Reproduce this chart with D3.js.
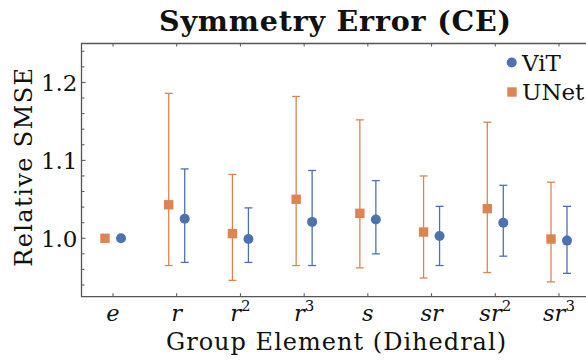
<!DOCTYPE html>
<html>
<head>
<meta charset="utf-8">
<script src="https://cdn.jsdelivr.net/npm/d3@7"></script>
<style>
  body { margin: 0; background: #fff; }
  text { font-family: "DejaVu Serif", serif; fill: #111; }
</style>
</head>
<body>
<div class="box"></div>
<script>
// donnees
const elements = ['e', 'r', 'r2', 'r3', 's', 'sr', 'sr2', 'sr3'];
const vitMoy  = [1.000, 1.025, 0.999, 1.021, 1.024, 1.003, 1.020, 0.997];
const vitBas  = [1.000, 0.969, 0.969, 0.965, 0.980, 0.965, 0.977, 0.955];
const vitHaut = [1.000, 1.089, 1.039, 1.087, 1.074, 1.041, 1.068, 1.041];
const unetMoy  = [1.000, 1.043, 1.006, 1.050, 1.032, 1.008, 1.038, 0.999];
const unetBas  = [1.000, 0.965, 0.946, 0.965, 0.962, 0.949, 0.956, 0.944];
const unetHaut = [1.000, 1.186, 1.082, 1.182, 1.152, 1.080, 1.149, 1.072];
const yTicks = [1.0, 1.1, 1.2];

const dims = {width: 586, height: 360};
const bleu = '#4c72b0', orange = '#dd8452';

const svg = d3.select('.box')
              .append('svg')
              .attr('width', dims.width)
              .attr('height', dims.height);

const x = d3.scalePoint().domain(elements).range([113, 559]);
const y = d3.scaleLinear().domain([0.925, 1.25]).range([296.7, 43.5]);

const bord = {gauche: 81.5, haut: y(1.25), bas: y(0.925), droite: 600};

// ticks mineurs
const minor = d3.range(0.94, 1.245, 0.02).map(v => +v.toFixed(2));
svg.append('g').selectAll('line')
   .data(minor)
   .join('line')
   .attr('x1', bord.gauche).attr('x2', d => bord.gauche + (yTicks.some(t => Math.abs(t - d) < 1e-6) ? 4 : 3))
   .attr('y1', d => y(d)).attr('y2', d => y(d))
   .attr('stroke', '#555').attr('stroke-width', 1);

// ticks x (bas et haut)
svg.append('g').selectAll('line')
   .data(elements)
   .join('line')
   .attr('x1', d => x(d)).attr('x2', d => x(d))
   .attr('y1', bord.bas).attr('y2', bord.bas - 3.5)
   .attr('stroke', '#555');
svg.append('g').selectAll('line')
   .data(elements)
   .join('line')
   .attr('x1', d => x(d)).attr('x2', d => x(d))
   .attr('y1', bord.haut).attr('y2', bord.haut + 3)
   .attr('stroke', '#555');

// cadre
svg.append('path')
   .attr('d', `M${bord.droite},${bord.haut}H${bord.gauche}V${bord.bas}H${bord.droite}`)
   .attr('fill', 'none')
   .attr('stroke', '#555')
   .attr('stroke-width', 1.3);

// labels y
svg.append('g').selectAll('text')
   .data(yTicks)
   .join('text')
   .attr('x', bord.gauche - 4)
   .attr('y', d => y(d) + 8.5)
   .attr('text-anchor', 'end')
   .attr('font-size', 23)
   .text(d => d.toFixed(1));

// labels x avec exposants
const xLab = svg.append('g').selectAll('text')
   .data(elements)
   .join('text')
   .attr('x', d => x(d))
   .attr('y', 320.5)
   .attr('text-anchor', 'middle')
   .attr('font-size', 22.5)
   .attr('font-style', 'italic');
xLab.append('tspan').text(d => d.replace(/\d/, ''));
xLab.filter(d => /\d/.test(d))
    .append('tspan')
    .attr('dy', -10)
    .attr('font-size', 15)
    .attr('font-style', 'normal')
    .text(d => d.match(/\d/)[0]);

// titres
svg.append('text')
   .attr('x', 335).attr('y', 31)
   .attr('text-anchor', 'middle')
   .attr('font-size', 28.5)
   .attr('font-weight', 'bold')
   .attr('textLength', 352)
   .attr('lengthAdjust', 'spacing')
   .text('Symmetry Error (CE)');

svg.append('text')
   .attr('x', 336).attr('y', 350)
   .attr('text-anchor', 'middle')
   .attr('font-size', 24)
   .attr('textLength', 340)
   .attr('lengthAdjust', 'spacing')
   .text('Group Element (Dihedral)');

svg.append('text')
   .attr('transform', `translate(32, ${y(1.091)}) rotate(-90)`)
   .attr('text-anchor', 'middle')
   .attr('font-size', 24)
   .attr('textLength', 199)
   .attr('lengthAdjust', 'spacing')
   .text('Relative SMSE');

// series
const series = [
  {nom: 'UNet', couleur: orange, dx: -8, moy: unetMoy, bas: unetBas, haut: unetHaut, forme: 'carre'},
  {nom: 'ViT', couleur: bleu, dx: 8, moy: vitMoy, bas: vitBas, haut: vitHaut, forme: 'rond'}
];

series.forEach(s => {
  const g = svg.append('g');
  const donnee = elements.map((e, i) => ({e, m: s.moy[i], lo: s.bas[i], hi: s.haut[i]}));
  const cx = d => x(d.e) + s.dx;

  g.selectAll('line.barre').data(donnee).join('line')
   .attr('x1', cx).attr('x2', cx)
   .attr('y1', d => y(d.lo)).attr('y2', d => y(d.hi))
   .attr('stroke', s.couleur).attr('stroke-width', 1.3);
  ['lo', 'hi'].forEach(k => {
    g.selectAll('line.cap-' + k).data(donnee).join('line')
     .attr('x1', d => cx(d) - 4).attr('x2', d => cx(d) + 4)
     .attr('y1', d => y(d[k])).attr('y2', d => y(d[k]))
     .attr('stroke', s.couleur).attr('stroke-width', 1.3);
  });

  if (s.forme === 'carre') {
    g.selectAll('rect').data(donnee).join('rect')
     .attr('x', d => cx(d) - 4.7).attr('y', d => y(d.m) - 4.7)
     .attr('width', 9.4).attr('height', 9.4)
     .attr('fill', s.couleur);
  } else {
    g.selectAll('circle').data(donnee).join('circle')
     .attr('cx', cx).attr('cy', d => y(d.m))
     .attr('r', 5).attr('fill', s.couleur);
  }
});

// legende
const leg = svg.append('g');
leg.append('circle').attr('cx', 511.7).attr('cy', 62.5).attr('r', 5).attr('fill', bleu);
leg.append('text').attr('x', 522).attr('y', 71).attr('font-size', 23).text('ViT');
leg.append('rect').attr('x', 507.3).attr('y', 87.3).attr('width', 9.4).attr('height', 9.4).attr('fill', orange);
leg.append('text').attr('x', 522).attr('y', 100).attr('font-size', 23).text('UNet');
</script>
</body>
</html>
